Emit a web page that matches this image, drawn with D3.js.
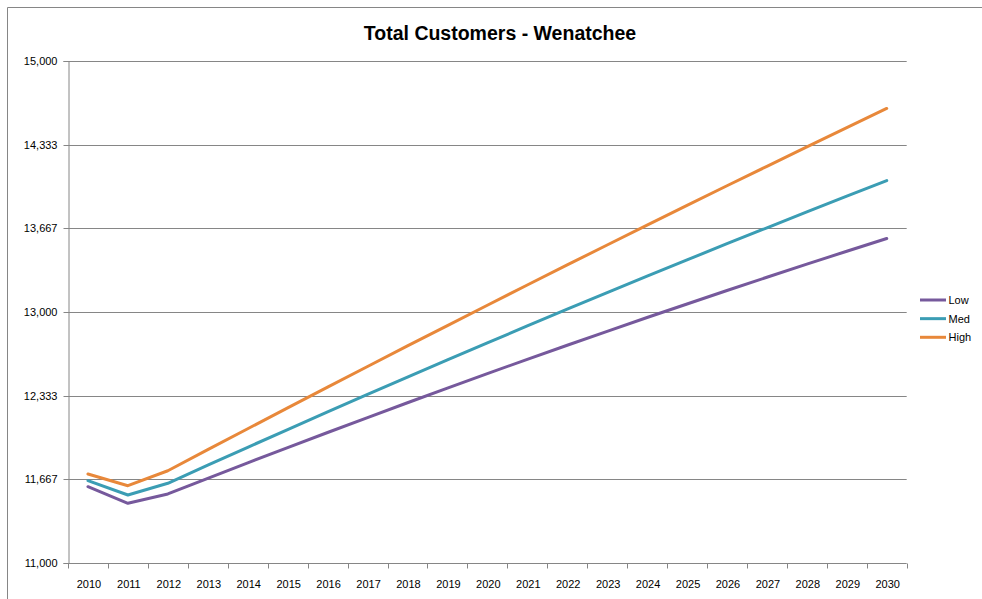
<!DOCTYPE html>
<html>
<head>
<meta charset="utf-8">
<script src="https://cdn.jsdelivr.net/npm/d3@7/dist/d3.min.js"></script>
<style>
  html, body { margin: 0; padding: 0; background: #ffffff; }
  svg { display: block; }
  text { font-family: "Liberation Sans", Arial, sans-serif; fill: #000; }
</style>
</head>
<body>
<svg id="chart" width="982" height="599"></svg>
<script>
const years = [2010,2011,2012,2013,2014,2015,2016,2017,2018,2019,2020,2021,2022,2023,2024,2025,2026,2027,2028,2029,2030];
const lowValues  = [11608,11476,11550,11675,11798,11920,12040,12159,12277,12394,12509,12623,12735,12846,12956,13064,13171,13277,13381,13484,13586];
const medValues  = [11656,11542,11635,11779,11922,12063,12204,12343,12481,12618,12754,12889,13022,13154,13285,13415,13544,13671,13798,13923,14047];
const highValues = [11709,11616,11735,11903,12070,12236,12402,12566,12730,12892,13054,13215,13375,13534,13692,13849,14006,14161,14316,14469,14622];
const seriesNames = ["Low","Med","High"];
const seriesColors = ["#76599c","#3b9db4","#e8883a"];
const yTicks = [11000, 11000+2000/3, 11000+4000/3, 13000, 13000+2000/3, 13000+4000/3, 15000];
const chartTitle = "Total Customers - Wenatchee";

(function () {
const series = [lowValues, medValues, highValues].map((vals, i) => ({
  name: seriesNames[i], color: seriesColors[i],
  points: years.map((yr, j) => ({year: yr, value: vals[j]}))
}));

const svg = d3.select("#chart");
const pLeft = 68, pRight = 906.7, pTop = 61, pBottom = 563;

// outer border (top and left visible)
svg.append("path")
  .attr("d", "M7.5,1000 L7.5,7.5 L1000,7.5")
  .attr("fill", "none").attr("stroke", "#868686").attr("stroke-width", 1);

const x = d3.scaleBand().domain(years).range([pLeft, pRight]).padding(0);
const y = d3.scaleLinear().domain([11000, 15000]).range([pBottom, pTop]);

// gridlines
svg.append("g").selectAll("line").data(yTicks.slice(1)).join("line")
  .attr("x1", pLeft).attr("x2", pRight)
  .attr("y1", d => Math.round(y(d)) + 0.5).attr("y2", d => Math.round(y(d)) + 0.5)
  .attr("stroke", "#868686").attr("stroke-width", 1);

// y axis
const yAxis = d3.axisLeft(y).tickValues(yTicks).tickSize(5).tickPadding(6)
  .tickFormat(d3.format(",.0f"));
const gy = svg.append("g").attr("transform", `translate(${pLeft + 0.5},0)`).call(yAxis);
gy.select(".domain").attr("stroke", "#868686");
gy.selectAll(".tick").attr("transform", d => `translate(0,${Math.round(y(d)) + 0.5})`);
gy.selectAll(".tick line").attr("stroke", "#868686");
gy.selectAll(".tick text").attr("font-size", 11).attr("font-family", "Liberation Sans, Arial, sans-serif").attr("fill", "#000");

// x axis
const gx = svg.append("g").attr("transform", `translate(0,${pBottom + 0.5})`);
gx.append("line").attr("x1", pLeft).attr("x2", pRight).attr("stroke", "#868686");
const boundaries = years.map(yr => x(yr)).concat([pRight]);
gx.selectAll("line.tk").data(boundaries).join("line").attr("class", "tk")
  .attr("x1", d => Math.round(d) + 0.5).attr("x2", d => Math.round(d) + 0.5)
  .attr("y1", 0).attr("y2", 5).attr("stroke", "#868686");
gx.selectAll("text").data(years).join("text")
  .attr("x", d => x(d) + x.bandwidth() / 2 + 1)
  .attr("y", 24)
  .attr("text-anchor", "middle")
  .attr("font-size", 11)
  .text(d => d);

// lines
const line = d3.line()
  .x(d => x(d.year) + x.bandwidth() / 2)
  .y(d => y(d.value));
svg.append("g").selectAll("path").data(series).join("path")
  .attr("d", d => line(d.points))
  .attr("fill", "none")
  .attr("stroke", d => d.color)
  .attr("stroke-width", 3)
  .attr("stroke-linejoin", "round")
  .attr("stroke-linecap", "round");

// title
svg.append("text")
  .attr("x", 500).attr("y", 39.5)
  .attr("text-anchor", "middle")
  .attr("font-size", 19.5).attr("font-weight", "bold")
  .text(chartTitle);

// legend
const lg = svg.append("g").selectAll("g").data(series).join("g")
  .attr("transform", (d, i) => `translate(920,${300 + i * 18.65})`);
lg.append("line").attr("x1", 0).attr("x2", 26).attr("y1", 0).attr("y2", 0)
  .attr("stroke", d => d.color).attr("stroke-width", 3);
lg.append("text").attr("x", 28.5).attr("y", 4).attr("font-size", 11).text(d => d.name);
})();
</script>
</body>
</html>
